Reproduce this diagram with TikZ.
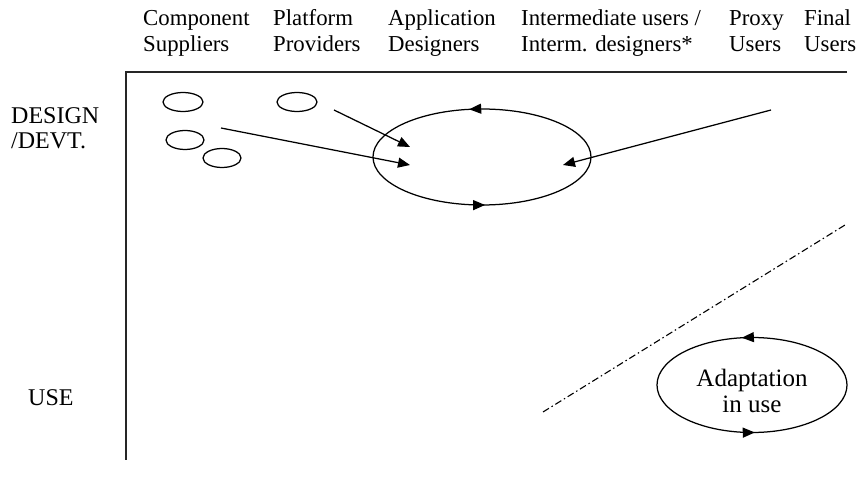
\documentclass[tikz,border=0pt]{standalone}
\usepackage{fontspec}
\setmainfont{Liberation Serif}
\usetikzlibrary{arrows.meta,decorations.markings}
\begin{document}
\begin{tikzpicture}[x=1pt,y=1pt,
  collabel/.style={anchor=base west,inner sep=0pt,font=\fontsize{22.8}{26}\selectfont},
  rowlabel/.style={anchor=base west,inner sep=0pt,font=\fontsize{24}{27}\selectfont},
  axis/.style={line width=1.3pt,black!85},
  small/.style={draw,line width=1.25pt},
  conn/.style={line width=1.25pt,-{Triangle[length=12pt,width=10pt]}},
  loopline/.style={line width=1.25pt,postaction={decorate},
    decoration={markings,
      mark=at position #1 with {\arrow{Triangle[length=12pt,width=10pt]}},
      mark=at position 0.756 with {\arrow{Triangle[length=12pt,width=10pt]}}}},
  divider/.style={line width=1.1pt,dash pattern=on 7pt off 3pt on 1.5pt off 3pt}
]
\useasboundingbox (0,0) rectangle (860,-489);
% column labels
\node[collabel] (c1a) at (143,-26) {Component};
\node[collabel] (c1b) at (143,-52) {Suppliers};
\node[collabel] (c2a) at (273,-26) {Platform};
\node[collabel] (c2b) at (273,-52) {Providers};
\node[collabel] (c3a) at (388,-26) {Application};
\node[collabel] (c3b) at (388,-52) {Designers};
\node[collabel] (c4a) at (521,-26) {Intermediate users /};
\node[collabel] (c4b) at (521,-52) {Interm. designers*};
\node[collabel] (c5a) at (729,-26) {Proxy};
\node[collabel] (c5b) at (729,-52) {Users};
\node[collabel] (c6a) at (804,-26) {Final};
\node[collabel] (c6b) at (804,-52) {Users};
% row labels
\node[rowlabel] (r1a) at (11,-124) {DESIGN};
\node[rowlabel] (r1b) at (11,-149) {/DEVT.};
\node[rowlabel] (r2) at (28,-405) {USE};
% axes
\coordinate (origin) at (126,-72);
\coordinate (xend) at (847,-72);
\coordinate (yend) at (126,-460);
\draw[axis] (xend) -- (origin) -- (yend);
% small ellipses
\draw[small] (183,-102) ellipse [x radius=20, y radius=9.5];
\draw[small] (297,-102) ellipse [x radius=20, y radius=9.5];
\draw[small] (185,-140) ellipse [x radius=19, y radius=9.5];
\draw[small] (222,-158) ellipse [x radius=19, y radius=9.5];
% design loop
\coordinate (dev) at (482,-157);
\draw[loopline=0.275] (dev) ellipse [x radius=109, y radius=48];
% arrows into design loop
\coordinate (pfrom) at (334,-110);
\coordinate (pto) at (410,-147);
\coordinate (cfrom) at (221,-128);
\coordinate (cto) at (410,-165);
\coordinate (ufrom) at (771,-110);
\coordinate (uto) at (563,-165);
\draw[conn] (pfrom) -- (pto);
\draw[conn] (cfrom) -- (cto);
\draw[conn] (ufrom) -- (uto);
% divider
\coordinate (dv1) at (543,-412);
\coordinate (dv2) at (845,-225);
\draw[divider] (dv1) -- (dv2);
% adaptation loop
\coordinate (ad) at (752,-385);
\draw[loopline=0.272] (ad) ellipse [x radius=95, y radius=47.5];
\node[align=center,font=\fontsize{25}{26}\selectfont,inner sep=0pt] (adtext) at (752,-391) {Adaptation\\in use};
\end{tikzpicture}
\end{document}
